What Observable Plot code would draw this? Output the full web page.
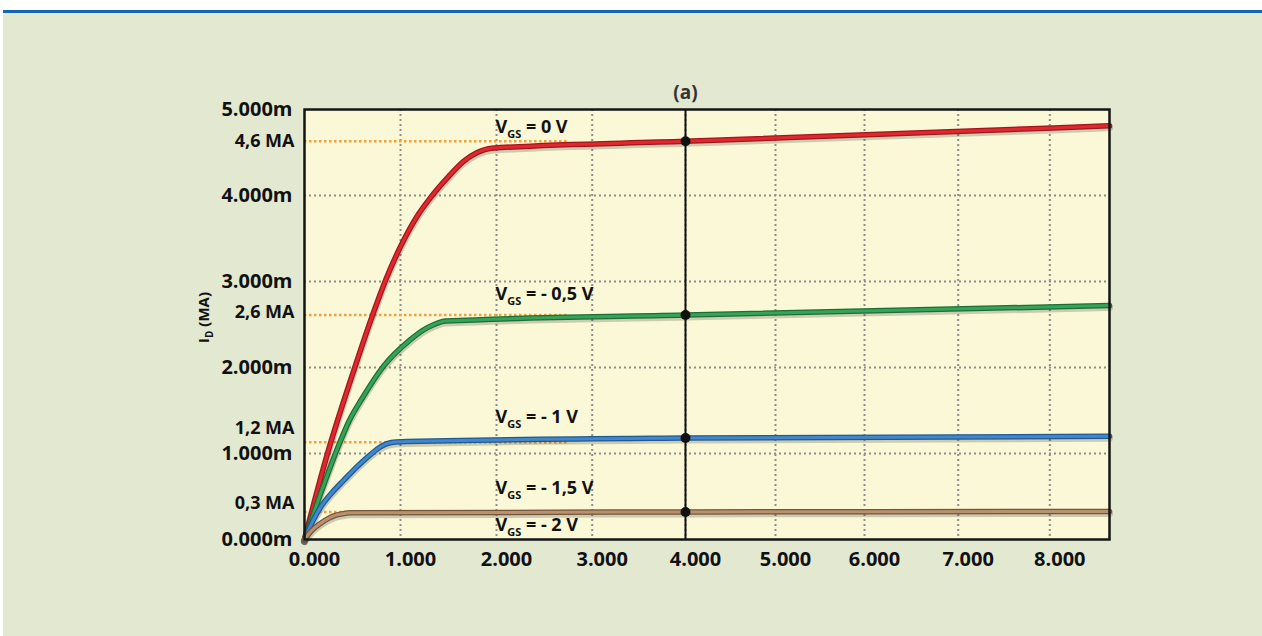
<!DOCTYPE html>
<html><head><meta charset="utf-8">
<script src="https://cdn.jsdelivr.net/npm/d3@7"></script>
<script src="https://cdn.jsdelivr.net/npm/@observablehq/plot@0.6"></script>
<style>
html,body{margin:0;padding:0;background:#fff;width:1262px;height:636px;overflow:hidden}
#bg{position:absolute;left:3px;top:10px;width:1259px;height:626px;background:#e3e8d1;border-top:3px solid #1565b0;box-sizing:border-box}
#chart{position:absolute;left:0;top:0}
</style></head><body><div id="bg"></div><div id="chart"></div>
<script>
// ---- data ----
const vdsTicks = [0, 1, 2, 3, 4, 5, 6, 7, 8];
const idTicks = [0, 1, 2, 3, 4, 5];
const gridXValues = [1, 2, 3, 4, 5, 6, 7, 8];
const gridYValues = [1, 2, 3, 4];

const vgs0X = [0, 0.24, 0.53, 0.70, 0.85, 1.02, 1.18, 1.33, 1.50, 1.66, 1.80, 1.95, 4, 8.65];
const vgs0Y = [0, 1.00, 2.02, 2.58, 3.03, 3.45, 3.77, 4.00, 4.22, 4.40, 4.50, 4.55, 4.63, 4.81];
const vgs05X = [0, 0.17, 0.34, 0.47, 0.60, 0.82, 1.10, 1.23, 1.35, 1.47, 4, 8.65];
const vgs05Y = [0, 0.54, 1.05, 1.39, 1.64, 2.01, 2.32, 2.43, 2.50, 2.54, 2.61, 2.72];
const vgs1X = [0, 0.08, 0.17, 0.29, 0.41, 0.55, 0.69, 0.78, 0.86, 0.95, 4, 8.65];
const vgs1Y = [0, 0.20, 0.38, 0.55, 0.69, 0.85, 0.99, 1.07, 1.115, 1.135, 1.18, 1.20];
const vgs15X = [0, 0.08, 0.17, 0.25, 0.32, 0.40, 0.48, 4, 8.65];
const vgs15Y = [0, 0.11, 0.19, 0.245, 0.28, 0.30, 0.31, 0.32, 0.325];

const seriesLabels = ["VGS = 0 V", "VGS = - 0,5 V", "VGS = - 1 V", "VGS = - 1,5 V", "VGS = - 2 V"];
const refValues = [4.63, 2.61, 1.13, 0.32];
const refLabels = ["4,6 MA", "2,6 MA", "1,2 MA", "0,3 MA"];
const refExtent = [0, 2.75];
const markerVds = 4;
const labelVds = 2;
const titleText = "(a)";
const yTitle = "ID (MA)";

// ---- styles ----
const darkColors = ["#a3161d", "#1c6e36", "#1e5a94", "#76553b"];
const mainColors = ["#e0282f", "#35a457", "#4287cc", "#b8916f"];
const labelDy = [-21, -26, -23, -24, -14];
const refDy = [0, -3, -14, -9];

// ---- build ----
const seriesX = [vgs0X, vgs05X, vgs1X, vgs15X];
const seriesY = [vgs0Y, vgs05Y, vgs1Y, vgs15Y];
const rows = seriesX.map((xs, s) => xs.map((x, i) => ({x, y: seriesY[s][i], s})));
function valueAt(s, x) {
  if (s >= seriesX.length) return 0;
  const xs = seriesX[s], ys = seriesY[s];
  for (let i = 1; i < xs.length; i++) {
    if (x <= xs[i]) return ys[i-1] + (ys[i] - ys[i-1]) * (x - xs[i-1]) / (xs[i] - xs[i-1]);
  }
  return ys[ys.length - 1];
}
const markerDots = seriesX.map((_, s) => ({x: markerVds, y: valueAt(s, markerVds)}));

const marks = [
  Plot.frame({fill: "#faf8d6", stroke: null}),
  Plot.gridX(gridXValues, {stroke: "#8d8d8d", strokeOpacity: 1, strokeWidth: 2, strokeDasharray: "2,3"}),
  Plot.gridY(gridYValues, {stroke: "#8d8d8d", strokeOpacity: 1, strokeWidth: 2, strokeDasharray: "2,3"}),
  Plot.ruleY(refValues, {x1: refExtent[0], x2: refExtent[1], stroke: "#f2a03a", strokeWidth: 2.5, strokeDasharray: "2.5,2.5"})
];
rows.forEach((r, s) => {
  marks.push(Plot.line(r, {x: "x", y: "y", curve: "monotone-x", stroke: "#000", strokeOpacity: 0.18, strokeWidth: 7, dy: 2}));
  marks.push(Plot.line(r, {x: "x", y: "y", curve: "monotone-x", stroke: darkColors[s], strokeWidth: 5.5}));
  marks.push(Plot.line(r, {x: "x", y: "y", curve: "monotone-x", stroke: mainColors[s], strokeWidth: 3}));
});
marks.push(
  Plot.ruleX([markerVds], {y1: idTicks[0], y2: idTicks[idTicks.length - 1], stroke: "#111", strokeWidth: 2}),
  Plot.dot(markerDots, {x: "x", y: "y", r: 5, fill: "#111", stroke: null}),
  Plot.frame({stroke: "#151515", strokeWidth: 2.5})
);
refLabels.forEach((t, i) => {
  marks.push(Plot.text([t], {y: () => refValues[i], frameAnchor: "left", dx: -10, dy: refDy[i], textAnchor: "end", fontSize: 18, fontWeight: "bold", fill: "#111", text: d => d}));
});
seriesLabels.forEach((t, i) => {
  marks.push(Plot.text([t], {x: () => labelVds, y: () => valueAt(i, labelVds), dx: -1, dy: labelDy[i], textAnchor: "start", fontSize: 18, fontWeight: "bold", fill: "#111", text: d => d}));
});
marks.push(
  Plot.text([titleText], {x: () => markerVds, frameAnchor: "top", dy: -24, fontSize: 19, fontWeight: "bold", fill: "#333", text: d => d}),
  Plot.text([yTitle], {frameAnchor: "left", dx: -100, dy: -7, rotate: -90, textAnchor: "middle", fontSize: 15, fontWeight: "bold", fill: "#111", text: d => d}),
  Plot.axisX(vdsTicks, {tickFormat: d => d.toFixed(3), tickSize: 0, tickPadding: 12, fontSize: 20, fontWeight: "bold", color: "#111", dx: 10, label: null}),
  Plot.axisY(idTicks, {tickFormat: d => d.toFixed(3) + "m", tickSize: 0, tickPadding: 12, fontSize: 20, fontWeight: "bold", color: "#111", label: null})
);

const svg = Plot.plot({
  width: 1262, height: 636,
  marginLeft: 304, marginRight: 153, marginTop: 109, marginBottom: 97,
  x: {type: "linear", domain: [0, 1, 2, 3, 4, 5, 6, 7, 8, 8.65], range: [304, 400, 496, 591.7, 685, 775, 864, 957.7, 1049.3, 1109], label: null},
  y: {type: "linear", domain: [0, 5], range: [539, 109], label: null},
  style: {background: "transparent", fontFamily: "'Open Sans', 'Noto Sans', sans-serif", overflow: "visible"},
  marks
});
document.getElementById("chart").appendChild(svg);

// subscripts
const NS = "http://www.w3.org/2000/svg";
function sub(el, base, s, rest, subSize, shift) {
  el.textContent = "";
  const a = document.createElementNS(NS, "tspan"); a.textContent = base;
  const b = document.createElementNS(NS, "tspan"); b.textContent = s;
  b.setAttribute("font-size", subSize); b.setAttribute("dy", shift);
  const c = document.createElementNS(NS, "tspan"); c.textContent = rest;
  c.setAttribute("dy", -shift);
  el.append(a, b, c);
}
svg.querySelectorAll("text").forEach(el => {
  const t = el.textContent;
  if (t.startsWith("VGS")) sub(el, "V", "GS", t.slice(3), 11, 5);
  else if (t === yTitle) sub(el, "I", "D", t.slice(2), 10, 4);
});
</script></body></html>
